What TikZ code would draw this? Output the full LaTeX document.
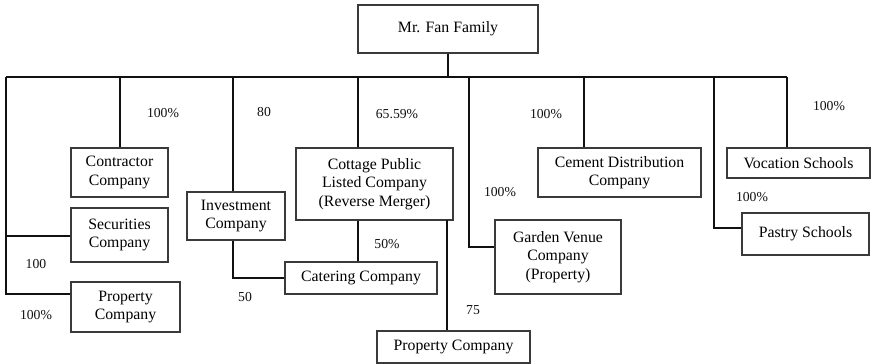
\documentclass[tikz,border=0pt]{standalone}
\usepackage{fontspec}
\setmainfont{Liberation Serif}
\newfontfamily\tnr{Liberation Serif}
\usetikzlibrary{calc}
\definecolor{edge}{HTML}{3A3A3A}
\definecolor{ink}{HTML}{111111}
\tikzset{
  box/.style={draw=edge, fill=white, align=center, inner sep=2pt,
              line width=1.1pt, font=\tnr\fontsize{15.8}{18.3}\selectfont},
  ln/.style={draw=ink, line width=1.1pt},
  lbl/.style={font=\tnr\fontsize{13.7}{16}\selectfont, color=ink, inner sep=0pt}
}
\begin{document}
\begin{tikzpicture}[x=1pt,y=-1pt]
  \useasboundingbox (0,0) rectangle (871,364);

  \node[box, minimum width=180, minimum height=48] (fan) at (448,29) {Mr. Fan Family};

  \node[box, minimum width=97, minimum height=49] (contractor) at (119.5,172.5) {Contractor\\Company};
  \node[box, minimum width=97, minimum height=54] (securities) at (119.5,235) {Securities\\Company};
  \node[box, minimum width=109, minimum height=50] (propL) at (125.5,307) {Property\\Company};
  \node[box, minimum width=98, minimum height=48] (invest) at (236,216) {Investment\\Company};
  \node[box, minimum width=157, minimum height=72] (cottage) at (374.5,184) {Cottage Public\\Listed Company\\(Reverse Merger)};
  \node[box, minimum width=152, minimum height=32] (catering) at (361,278) {Catering Company};
  \node[box, minimum width=153, minimum height=32] (propB) at (453.5,347) {Property Company};
  \node[box, minimum width=126, minimum height=74] (garden) at (558,257) {Garden Venue\\Company\\(Property)};
  \node[box, minimum width=163, minimum height=49] (cement) at (619.5,172.5) {Cement Distribution\\Company};
  \node[box, minimum width=143, minimum height=30] (vocation) at (798.5,163) {Vocation Schools};
  \node[box, minimum width=127, minimum height=42] (pastry) at (805.5,234) {Pastry Schools};

  \coordinate (busL) at (6,77);
  \coordinate (busR) at (787,77);
  \coordinate (b1) at (120,77);
  \coordinate (b2) at (233,77);
  \coordinate (b3) at (358,77);
  \coordinate (b4) at (469,77);
  \coordinate (b5) at (584,77);
  \coordinate (b6) at (714,77);
  \coordinate (lk1) at (6,236);
  \coordinate (lk2) at (6,294);
  \coordinate (pk) at (447,220);
  \coordinate (gk) at (469,247);
  \coordinate (sk) at (714,228);

  \draw[ln] (fan.south) -- (fan.south |- busL);
  \draw[ln] (busL) -- (busR);
  \draw[ln] (busL) -- (lk2) -- (lk2 -| propL.west);
  \draw[ln] (lk1) -- (lk1 -| securities.west);
  \draw[ln] (b1) -- (b1 |- contractor.north);
  \draw[ln] (b2) -- (b2 |- invest.north);
  \draw[ln] (b2 |- invest.south) -- (b2 |- catering.west) -- (catering.west);
  \draw[ln] (b3) -- (b3 |- cottage.north);
  \draw[ln] (b3 |- cottage.south) -- (b3 |- catering.north);
  \draw[ln] (pk) -- (pk |- propB.north);
  \draw[ln] (b4) -- (gk) -- (gk -| garden.west);
  \draw[ln] (b5) -- (b5 |- cement.north);
  \draw[ln] (b6) -- (sk) -- (sk -| pastry.west);
  \draw[ln] (busR) -- (busR |- vocation.north);

  \node[lbl] (l1) at (163,113) {100\%};
  \node[lbl] (l2) at (36,264) {100};
  \node[lbl] (l3) at (36,315) {100\%};
  \node[lbl] (l4) at (264,112) {80};
  \node[lbl] (l5) at (245,297) {50};
  \node[lbl] (l6) at (397,114) {65.59\%};
  \node[lbl] (l7) at (387,244) {50\%};
  \node[lbl] (l8) at (473,310) {75};
  \node[lbl] (l9) at (546,114) {100\%};
  \node[lbl] (l10) at (500,192) {100\%};
  \node[lbl] (l11) at (829,106) {100\%};
  \node[lbl] (l12) at (752,197) {100\%};
\end{tikzpicture}
\end{document}
